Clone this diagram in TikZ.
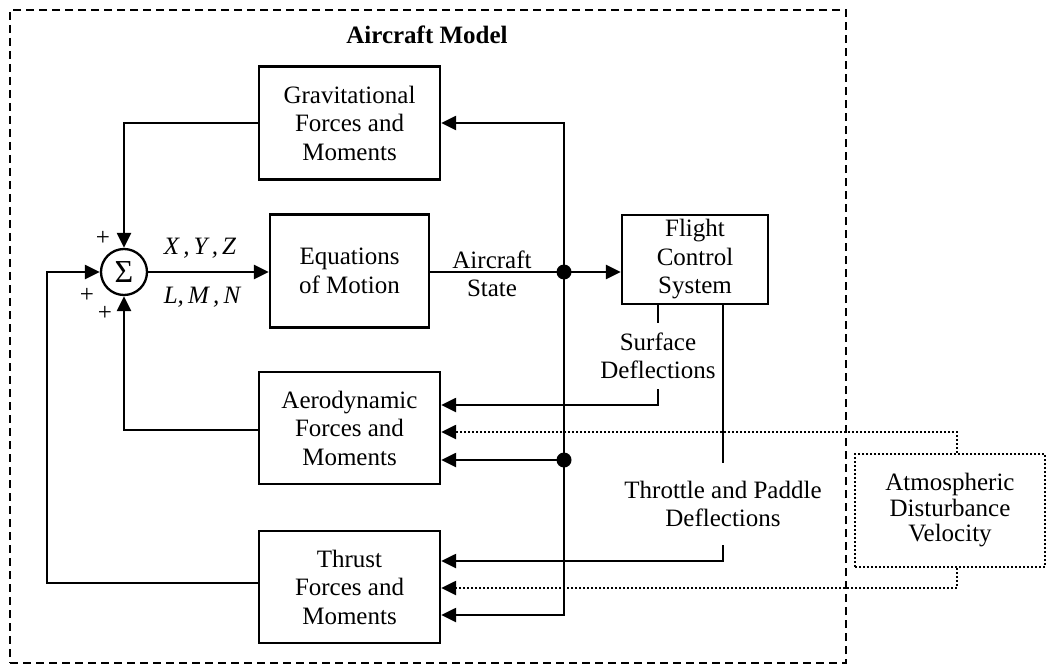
\documentclass[tikz,border=0pt]{standalone}
\usepackage{fontspec}
\setmainfont{Liberation Serif}
\usetikzlibrary{arrows.meta,calc}
\begin{document}
\begin{tikzpicture}[x=1pt,y=-1pt,
  every node/.style={font=\fontsize{25}{28.5}\selectfont},
  blk/.style={draw,line width=2.3pt,align=center,inner sep=0pt},
  lbl/.style={align=center,inner sep=0pt},
  conn/.style={line width=2.3pt},
  arr/.style={conn,-{Triangle[length=15pt,width=14pt]}},
  dotarr/.style={line width=2.3pt,dash pattern=on 2pt off 2pt,-{Triangle[length=15pt,width=14pt]}},
  junction/.style={circle,fill,inner sep=0pt,minimum size=15pt}]
\useasboundingbox (0,0) rectangle (1049,666);
% outer model frame
\node[draw,line width=2.3pt,dash pattern=on 8pt off 5pt,minimum width=836pt,minimum height=653pt,inner sep=0pt] (model) at (428,336.5) {};
\node[font=\fontsize{25}{28.5}\selectfont\bfseries] (title) at (427,35) {Aircraft Model};
% blocks
\node[blk,minimum width=181pt,minimum height=113pt] (grav) at (349.5,123) {Gravitational\\Forces and\\Moments};
\node[blk,minimum width=159pt,minimum height=113pt] (eom) at (349.5,271) {Equations\\of Motion};
\node[blk,minimum width=181pt,minimum height=112pt] (aero) at (349.5,428) {Aerodynamic\\Forces and\\Moments};
\node[blk,minimum width=181pt,minimum height=112pt] (thrust) at (349.5,587) {Thrust\\Forces and\\Moments};
\node[blk,minimum width=146pt,minimum height=89pt] (fcs) at (695,259.5) {Flight\\Control\\System};
\node[draw,line width=2.3pt,dash pattern=on 2pt off 2pt,align=center,inner sep=0pt,minimum width=190pt,minimum height=113pt,font=\fontsize{25}{25.5}\selectfont] (atm) at (950,510.5) {Atmospheric\\Disturbance\\Velocity};
\node[circle,draw,line width=2.3pt,minimum size=46pt,inner sep=0pt,font=\fontsize{32}{34}\selectfont] (sum) at (124,272) {Σ};
% labels
\node (p1) at (103,238) {+};
\node (p2) at (87,295) {+};
\node (p3) at (105,313) {+};
\node (xyz) at (200,248) {\itshape X\,,\,Y\,,\,Z};
\node (lmn) at (202,297) {\itshape L,\,M\,,\,N};
\node[lbl] (state) at (492,274) {Aircraft\\State};
\node[lbl,inner ysep=10pt] (surf) at (658,356) {Surface\\Deflections};
\node[lbl,inner ysep=18pt] (thr) at (723,504) {Throttle and Paddle\\Deflections};
% junctions
\node[junction] (j1) at (564,272) {};
\node[junction] (j2) at (564,460) {};
% connectors
\draw[arr] (sum.east) -- (sum.east -| eom.west);
\draw[arr] (eom.east |- sum.east) -- (fcs.west |- sum.east);
\draw[arr] (j1.center) |- (grav.east);
\draw[arr] (j1.center) |- ($(thrust.east)+(0,28)$);
\draw[arr] (j2.center) -- (j2.center -| aero.east);
\draw[conn] (fcs.south -| surf) -- (surf.north);
\draw[arr] (surf.south) |- ($(aero.east)+(0,-23)$);
\draw[conn] (fcs.south -| thr) -- (thr.north);
\draw[arr] (thr.south) |- ($(thrust.east)+(0,-26)$);
\draw[dotarr] ($(atm.north west)+(103,0)$) |- ($(aero.east)+(0,4)$);
\draw[dotarr] ($(atm.south west)+(103,0)$) |- ($(thrust.east)+(0,1)$);
\draw[arr] (grav.west) -| (sum.north);
\draw[arr] ($(aero.west)+(0,2)$) -| (sum.south);
\draw[arr] ($(thrust.west)+(0,-4)$) -- ++(-211,0) |- (sum.west);
\end{tikzpicture}
\end{document}
